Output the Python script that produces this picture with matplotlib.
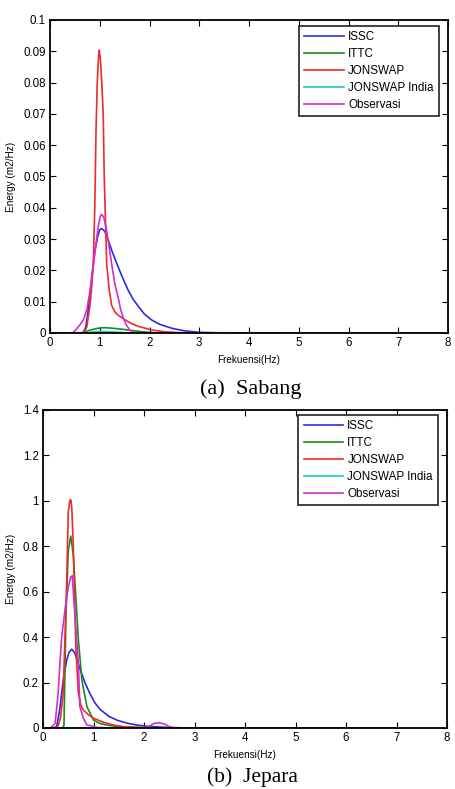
import matplotlib
matplotlib.use("Agg")
import matplotlib.pyplot as plt

plt.rcParams['font.family'] = ['Liberation Sans', 'DejaVu Sans']

# ---------------- data: Sabang ----------------
sab_issc_f = [0, 0.64, 0.68, 0.72, 0.76, 0.8, 0.84, 0.9, 0.96, 1.0, 1.04, 1.1, 1.17, 1.25, 1.34, 1.45, 1.57, 1.67, 1.78, 1.9, 2.04, 2.2, 2.45, 2.7, 3.0, 3.5, 7.85]
sab_issc_e = [0, 0, 0.0004, 0.002, 0.0063, 0.012, 0.018, 0.026, 0.031, 0.033, 0.0334, 0.0325, 0.0297, 0.026, 0.0223, 0.018, 0.0137, 0.0108, 0.0084, 0.006, 0.0042, 0.0028, 0.0015, 0.0007, 0.0002, 0, 0]

sab_ittc_f = [0, 0.6, 0.7, 0.8, 0.9, 1.0, 1.1, 1.2, 1.4, 1.6, 1.8, 2.0, 2.2, 7.85]
sab_ittc_e = [0, 0, 0.0003, 0.0009, 0.0013, 0.0016, 0.0017, 0.0016, 0.0013, 0.0009, 0.0005, 0.0002, 0, 0]

sab_jon_f = [0, 0.65, 0.7, 0.74, 0.8, 0.84, 0.87, 0.9, 0.925, 0.95, 0.975, 0.99, 1.015, 1.04, 1.07, 1.09, 1.14, 1.19, 1.24, 1.3, 1.37, 1.5, 1.64, 1.8, 2.04, 2.3, 2.6, 7.85]
sab_jon_e = [0, 0, 0.0006, 0.002, 0.0084, 0.015, 0.022, 0.04, 0.065, 0.08, 0.088, 0.0904, 0.087, 0.08, 0.07, 0.05, 0.022, 0.0137, 0.0088, 0.0068, 0.0057, 0.0043, 0.003, 0.002, 0.001, 0.0004, 0.0001, 0]

sab_joni_f = [0, 0.7, 0.85, 1.0, 1.2, 1.4, 1.6, 7.85]
sab_joni_e = [0, 0, 0.0003, 0.0005, 0.0004, 0.0002, 0, 0]

sab_obs_f = [0, 0.45, 0.52, 0.57, 0.62, 0.68, 0.74, 0.8, 0.86, 0.92, 0.97, 1.01, 1.04, 1.08, 1.13, 1.18, 1.24, 1.3, 1.37, 1.42, 1.47, 1.53, 1.6, 1.7, 7.85]
sab_obs_e = [0, 0, 0.001, 0.002, 0.003, 0.0045, 0.0075, 0.013, 0.02, 0.028, 0.034, 0.0372, 0.0379, 0.037, 0.0335, 0.0285, 0.022, 0.016, 0.0113, 0.0075, 0.005, 0.0027, 0.001, 0, 0]

# ---------------- data: Jepara ----------------
jep_issc_f = [0, 0.2, 0.27, 0.33, 0.4, 0.47, 0.52, 0.57, 0.63, 0.73, 0.83, 0.93, 1.03, 1.13, 1.3, 1.46, 1.65, 1.86, 2.1, 2.5, 3, 6.25]
jep_issc_e = [0, 0, 0.006, 0.08, 0.21, 0.30, 0.335, 0.347, 0.33, 0.262, 0.2, 0.151, 0.11, 0.082, 0.052, 0.035, 0.022, 0.013, 0.007, 0.002, 0, 0]

jep_ittc_f = [0, 0.38, 0.415, 0.455, 0.5, 0.55, 0.6, 0.63, 0.7, 0.77, 0.87, 1.0, 1.13, 1.26, 1.5, 1.8, 2.2, 7]
jep_ittc_e = [0, 0, 0.01, 0.5, 0.78, 0.845, 0.76, 0.65, 0.39, 0.21, 0.094, 0.035, 0.02, 0.013, 0.006, 0.002, 0, 0]

jep_jon_f = [0, 0.25, 0.3, 0.35, 0.4, 0.47, 0.5, 0.53, 0.55, 0.57, 0.6, 0.65, 0.7, 0.75, 0.8, 0.9, 1.0, 1.2, 1.39, 1.6, 2.0, 2.4, 7]
jep_jon_e = [0, 0, 0.01, 0.05, 0.15, 0.65, 0.95, 1.0, 1.005, 0.97, 0.8, 0.36, 0.153, 0.1, 0.079, 0.058, 0.043, 0.025, 0.013, 0.006, 0.002, 0, 0]

jep_joni_f = [0, 7]
jep_joni_e = [0, 0]

jep_obs_f = [0, 0.15, 0.24, 0.3, 0.34, 0.37, 0.44, 0.5, 0.55, 0.58, 0.63, 0.7, 0.73, 0.8, 0.87, 0.95, 1.05, 1.3, 2.0, 2.1, 2.2, 2.3, 2.4, 2.5, 2.6, 6.25]
jep_obs_e = [0, 0, 0.02, 0.153, 0.3, 0.40, 0.53, 0.62, 0.665, 0.67, 0.5, 0.285, 0.094, 0.043, 0.013, 0.01, 0.003, 0, 0, 0.008, 0.02, 0.023, 0.018, 0.006, 0, 0]

series_names = ['ISSC', 'ITTC', 'JONSWAP', 'JONSWAP India', 'Observasi']
colors = ['#2b2be6', '#1a8c1a', '#ee2a2a', '#20c8c8', '#d030d0']

x_ticks = [0, 1, 2, 3, 4, 5, 6, 7, 8]
x_labels = ['0', '1', '2', '3', '4', '5', '6', '7', '8']
sab_yticks = [0, 0.01, 0.02, 0.03, 0.04, 0.05, 0.06, 0.07, 0.08, 0.09, 0.1]
sab_ylabels = ['0', '0.01', '0.02', '0.03', '0.04', '0.05', '0.06', '0.07', '0.08', '0.09', '0.1']
jep_yticks = [0, 0.2, 0.4, 0.6, 0.8, 1.0, 1.2, 1.4]
jep_ylabels = ['0', '0.2', '0.4', '0.6', '0.8', '1', '1.2', '1.4']

W, H = 455, 789
fig = plt.figure(figsize=(W / 100, H / 100), dpi=100)


def make_axes(rect, data, yticks, ylabels, ymax, anchor):
    ax = fig.add_axes(rect)
    for (f, e), name, c in zip(data, series_names, colors):
        ax.plot(f, e, color=c, lw=1.2, label=name, solid_joinstyle='round')
    ax.set_xlim(0, 8)
    ax.set_ylim(0, ymax)
    ax.set_xticks(x_ticks)
    ax.set_xticklabels(x_labels)
    ax.set_yticks(yticks)
    ax.set_yticklabels(ylabels)
    ax.tick_params(direction='in', top=True, right=True, length=4, width=0.8,
                   labelsize=8.3, pad=3, colors='black')
    for s in ax.spines.values():
        s.set_linewidth(1.3)
    ax.set_xlabel('Frekuensi(Hz)', fontsize=7.2, labelpad=4)
    ax.set_ylabel('Energy (m2/Hz)', fontsize=7.2, labelpad=5)
    leg = ax.legend(loc='upper right', fontsize=8.4, frameon=True, fancybox=False,
                    edgecolor='black', handlelength=3.4, borderpad=0.45,
                    labelspacing=0.42, handletextpad=0.35, borderaxespad=0.0,
                    bbox_to_anchor=anchor)
    leg.get_frame().set_linewidth(1.3)
    return ax


sab_data = [(sab_issc_f, sab_issc_e), (sab_ittc_f, sab_ittc_e), (sab_jon_f, sab_jon_e),
            (sab_joni_f, sab_joni_e), (sab_obs_f, sab_obs_e)]
jep_data = [(jep_issc_f, jep_issc_e), (jep_ittc_f, jep_ittc_e), (jep_jon_f, jep_jon_e),
            (jep_joni_f, jep_joni_e), (jep_obs_f, jep_obs_e)]

make_axes([50 / W, 1 - 333 / H, 398 / W, 313 / H], sab_data, sab_yticks, sab_ylabels, 0.1,
          (0.977, 0.981))
make_axes([43 / W, 1 - 728 / H, 404 / W, 318 / H], jep_data, jep_yticks, jep_ylabels, 1.4,
          (0.978, 0.984))

fig.text(251 / W, 1 - 389 / H, '(a)  Sabang', ha='center', va='center',
         fontsize=16, family='Liberation Serif')
fig.text(252 / W, 1 - 787 / H, '(b)  Jepara', ha='center', va='bottom',
         fontsize=15.5, family='Liberation Serif')

fig.savefig('out.png', dpi=100)
